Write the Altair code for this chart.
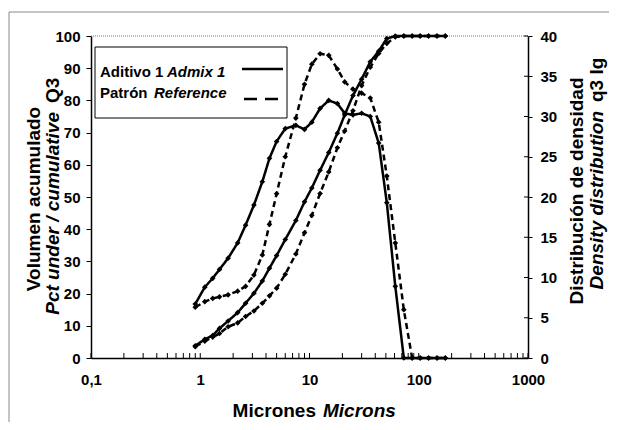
import altair as alt
import pandas as pd

# ---------------- data ----------------
sizes = [0.9, 1.1, 1.3, 1.5, 1.8, 2.2, 2.6, 3.1, 3.7, 4.3, 5.0, 6.0, 7.5, 9.0, 10.5,
         12.5, 15, 18, 21, 25, 30, 36, 43, 51, 61, 73, 87, 103, 123, 147, 175]

cum_admix = [3.8, 5.8, 7.0, 9.2, 11.5, 14.1, 17.0, 20.1, 23.9, 27.9, 31.8, 36.8, 42.7, 48.5, 52.8,
             58.3, 63.8, 69.8, 75.5, 81.5, 86.6, 92.0, 95.3, 99.2, 100, 100, 100, 100, 100, 100, 100]
cum_ref = [3.5, 5.2, 6.5, 7.6, 9.7, 10.9, 12.9, 14.6, 17.0, 19.3, 21.7, 26.0, 32.3, 38.9, 44.3,
           51.1, 57.8, 65.3, 70.5, 76.8, 84.6, 90.3, 94.6, 97.7, 99.7, 100, 100, 100, 100, 100, 100]

dens_admix = [6.7, 8.8, 9.9, 11.0, 12.4, 14.3, 16.5, 19.0, 21.9, 24.8, 26.9, 28.5, 28.9, 28.4, 29.3,
              31.0, 32.0, 31.6, 30.4, 30.2, 30.4, 30.0, 26.7, 19.3, 8.9, 0, 0, 0, 0, 0, 0]
dens_ref = [6.3, 7.0, 7.4, 7.6, 7.85, 8.3, 8.9, 10.3, 12.8, 16.6, 20.4, 25.0, 29.8, 34.0, 36.5,
            37.8, 37.6, 35.9, 34.3, 33.4, 32.9, 32.3, 29.3, 22.6, 14.3, 6.0, 0, 0, 0, 0, 0]

series_names = ["Aditivo 1", "Patrón"]
x_major = [0.1, 1, 10, 100, 1000]
x_minor = [m * d for d in [0.1, 1, 10, 100] for m in range(2, 10)]
left_ticks = list(range(0, 101, 10))
right_ticks = list(range(0, 41, 5))

n = len(sizes)
cum_df = pd.DataFrame({"size": sizes * 2, "value": cum_admix + cum_ref,
                       "series": [series_names[0]] * n + [series_names[1]] * n})
dens_df = pd.DataFrame({"size": sizes * 2, "value": dens_admix + dens_ref,
                        "series": [series_names[0]] * n + [series_names[1]] * n})
xtick_df = pd.DataFrame({"t": x_major + x_minor})
rtick_df = pd.DataFrame({"v": right_ticks})
one = pd.DataFrame({"a": [0]})

FONT = "Liberation Sans"
W, H = 437, 322

xscale = alt.Scale(type="log", domain=[0.1, 1000], nice=False)
lscale = alt.Scale(domain=[0, 100], nice=False)
rscale = alt.Scale(domain=[0, 40], nice=False)
dash = alt.StrokeDash("series:N", scale=alt.Scale(domain=series_names, range=[[1, 0], [6, 4]]), legend=None)

xaxis = alt.Axis(values=x_major, labelExpr="replace(format(datum.value, '~g'), '.', ',')",
                 tickSize=0, labelPadding=14, labelFont=FONT, labelFontSize=15,
                 labelFontWeight="bold", labelColor="black", domainColor="black",
                 domainWidth=1.5, grid=False, title=None, labelFlush=False)
left_axis = alt.Axis(values=left_ticks, tickSize=5, tickColor="black", labelPadding=6,
                     labelFont=FONT, labelFontSize=15, labelFontWeight="bold",
                     labelColor="black", domainColor="black", domainWidth=1.5, grid=False, title=None)
right_axis = alt.Axis(orient="right", values=right_ticks, tickSize=4, tickColor="black",
                      labelPadding=8, labelFont=FONT, labelFontSize=15, labelFontWeight="bold",
                      labelColor="black", domainColor="black", domainWidth=1.5, grid=False, title=None)

X = alt.X("size:Q", scale=xscale, axis=xaxis)

# cumulative (left axis)
base_c = alt.Chart(cum_df)
line_c = base_c.mark_line(color="black", strokeWidth=2.5).encode(
    x=X, y=alt.Y("value:Q", scale=lscale, axis=left_axis),
    strokeDash=dash, detail="series:N")
pts_c = base_c.mark_point(shape="diamond", filled=True, size=32, color="black", opacity=1).encode(
    x=X, y=alt.Y("value:Q", scale=lscale, axis=left_axis), detail="series:N")
cum_layer = alt.layer(line_c, pts_c)

# density (right axis)
base_d = alt.Chart(dens_df)
line_d = base_d.mark_line(color="black", strokeWidth=2.5).encode(
    x=X, y=alt.Y("value:Q", scale=rscale, axis=right_axis),
    strokeDash=dash, detail="series:N")
pts_d = base_d.mark_point(shape="diamond", filled=True, size=32, color="black", opacity=1).encode(
    x=X, y=alt.Y("value:Q", scale=rscale, axis=right_axis), detail="series:N")
rticks = alt.Chart(rtick_df).mark_rule(color="black", strokeWidth=1).encode(
    x=alt.value(W - 4), x2=alt.value(W),
    y=alt.Y("v:Q", scale=rscale, axis=right_axis))
dens_layer = alt.layer(line_d, pts_d, rticks)

# x ticks pointing inward
xticks = alt.Chart(xtick_df).mark_rule(color="black", strokeWidth=1).encode(
    x=alt.X("t:Q", scale=xscale, axis=xaxis), y=alt.value(H - 5), y2=alt.value(H))

# top dotted border
top_border = alt.Chart(one).mark_rule(color="#777", strokeWidth=1, strokeDash=[1, 1]).encode(
    x=alt.value(0), x2=alt.value(W), y=alt.value(0))

# outer frame
frame = alt.Chart(one).mark_rect(fill=None, stroke="#888", strokeWidth=1).encode(
    x=alt.value(-82), x2=alt.value(560), y=alt.value(-24), y2=alt.value(420))


def txt(s, x, y, size=15, italic=False, align="left", angle=0, baseline="middle"):
    return alt.Chart(one).mark_text(
        text=s, font=FONT, fontSize=size, fontWeight="bold",
        fontStyle="italic" if italic else "normal", align=align, baseline=baseline,
        angle=angle, color="black").encode(x=alt.value(x), y=alt.value(y))


# legend
legend_box = alt.Chart(one).mark_rect(fill="white", stroke="black", strokeWidth=1).encode(
    x=alt.value(4), x2=alt.value(196), y=alt.value(11), y2=alt.value(82))
leg_solid = alt.Chart(one).mark_rule(color="black", strokeWidth=2.5).encode(
    x=alt.value(151), x2=alt.value(192), y=alt.value(33))
leg_dash = alt.Chart(one).mark_rule(color="black", strokeWidth=2.5, strokeDash=[13, 8]).encode(
    x=alt.value(153), x2=alt.value(188), y=alt.value(63))
legend = [legend_box, leg_solid, leg_dash,
          txt("Aditivo 1", 9, 36), txt("Admix 1", 76, 36, italic=True),
          txt("Patrón", 9, 57), txt("Reference", 63, 57, italic=True)]

TS = 19
titles = [
    txt("Micrones", 225, 375, size=TS, align="right"),
    txt("Microns", 232, 375, size=TS, italic=True),
    txt("Volumen acumulado", -57, 163, size=TS, align="center", angle=270),
    txt("Pct under / cumulative", -38, 76, size=TS, italic=True, align="right", angle=270),
    txt("Q3", -38, 67, size=TS, align="left", angle=270),
    txt("Distribución de densidad", 486, 155, size=TS, align="center", angle=270),
    txt("Density distribution", 506, 75, size=TS, italic=True, align="right", angle=270),
    txt("q3 lg", 506, 66, size=TS, align="left", angle=270),
]

chart = alt.layer(frame, top_border, xticks, cum_layer, dens_layer, *legend, *titles).resolve_scale(
    y="independent").properties(
    width=W, height=H,
    autosize=alt.AutoSizeParams(type="none"),
    padding={"left": 83, "top": 28, "right": 81, "bottom": 64},
    background="white",
).configure_view(stroke=None)

chart.save("out.html", embed_options={"renderer": "svg", "actions": False})
